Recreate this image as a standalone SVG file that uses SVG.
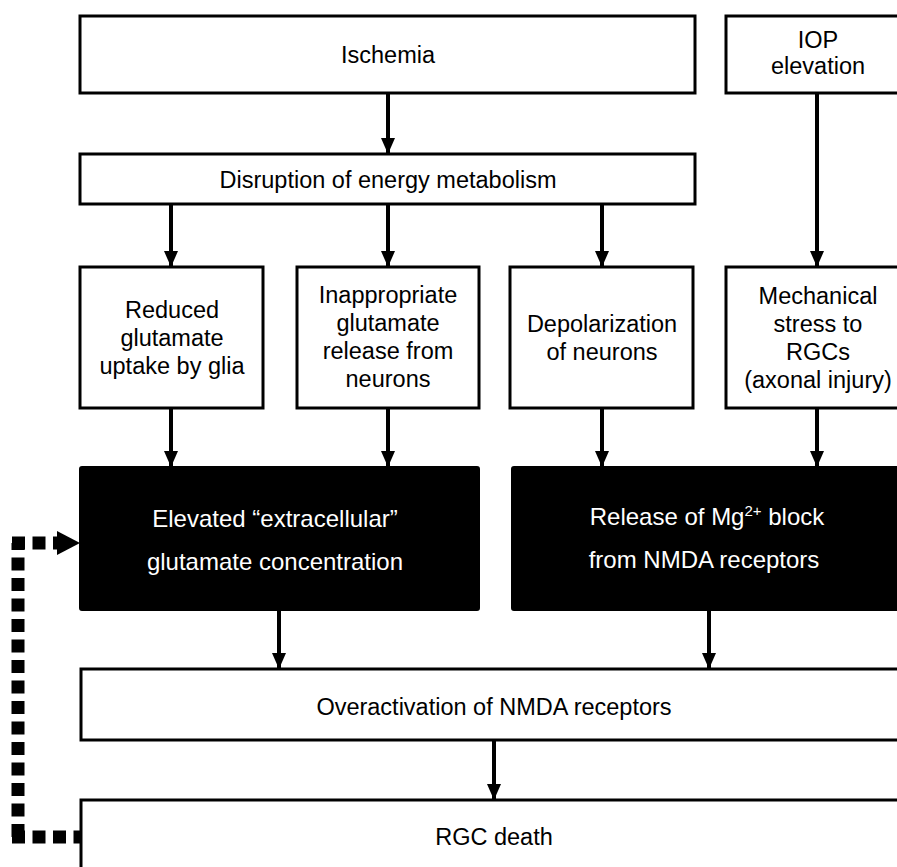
<svg xmlns="http://www.w3.org/2000/svg" width="897" height="867" viewBox="0 0 897 867">
<defs>
<style>
.box{fill:#fff;stroke:#000;stroke-width:3}
.dark{fill:#000;stroke:#000;stroke-width:2}
.t{font-family:"Liberation Sans",Arial,sans-serif;font-size:23.5px;fill:#000;text-anchor:middle}
.w{font-family:"Liberation Sans",Arial,sans-serif;font-size:24px;fill:#fff;text-anchor:middle}
.arr{stroke:#000;stroke-width:4;fill:none;marker-end:url(#ah)}
.dot{stroke:#000;stroke-width:13;fill:none;stroke-dasharray:13 7.5}
</style>
<marker id="ah" markerUnits="userSpaceOnUse" markerWidth="16" markerHeight="14" viewBox="0 0 16 14" refX="16" refY="7" orient="auto">
<path d="M0,0 L16,7 L0,14 Z" fill="#000"/>
</marker>
</defs>
<rect width="897" height="867" fill="#fff"/>

<g id="connectors">
<line class="arr" x1="388" y1="93" x2="388" y2="154"/>
<line class="arr" x1="171" y1="204" x2="171" y2="267"/>
<line class="arr" x1="388" y1="204" x2="388" y2="267"/>
<line class="arr" x1="602" y1="204" x2="602" y2="267"/>
<line class="arr" x1="817" y1="93" x2="817" y2="267"/>
<line class="arr" x1="171" y1="408" x2="171" y2="467"/>
<line class="arr" x1="388" y1="408" x2="388" y2="467"/>
<line class="arr" x1="602" y1="408" x2="602" y2="467"/>
<line class="arr" x1="817" y1="408" x2="817" y2="467"/>
<line class="arr" x1="279" y1="610" x2="279" y2="669"/>
<line class="arr" x1="709" y1="610" x2="709" y2="669"/>
<line class="arr" x1="494" y1="740" x2="494" y2="800"/>
<path class="dot" d="M18,837 V543"/>
<path class="dot" d="M12,837 H80"/>
<path class="dot" d="M12,543 H58"/>
<polygon points="57,531 80,543 57,555" fill="#000"/>
</g>

<g id="ischemia">
<rect class="box" x="80" y="16" width="615" height="77"/>
<text class="t" x="388" y="63">Ischemia</text>
</g>
<g id="iop">
<rect class="box" x="726" y="16" width="200" height="77"/>
<text class="t" x="818" y="48">IOP</text>
<text class="t" x="818" y="74">elevation</text>
</g>
<g id="disruption">
<rect class="box" x="80" y="154" width="615" height="50"/>
<text class="t" x="388" y="188">Disruption of energy metabolism</text>
</g>
<g id="reduced">
<rect class="box" x="80" y="267" width="183" height="141"/>
<text class="t" x="172" y="318">Reduced</text>
<text class="t" x="172" y="346">glutamate</text>
<text class="t" x="172" y="374">uptake by glia</text>
</g>
<g id="inappropriate">
<rect class="box" x="297" y="267" width="182" height="141"/>
<text class="t" x="388" y="303">Inappropriate</text>
<text class="t" x="388" y="331">glutamate</text>
<text class="t" x="388" y="359">release from</text>
<text class="t" x="388" y="387">neurons</text>
</g>
<g id="depolarization">
<rect class="box" x="510" y="267" width="183" height="141"/>
<text class="t" x="602" y="332">Depolarization</text>
<text class="t" x="602" y="360">of neurons</text>
</g>
<g id="mechanical">
<rect class="box" x="726" y="267" width="200" height="141"/>
<text class="t" x="818" y="304">Mechanical</text>
<text class="t" x="818" y="332">stress to</text>
<text class="t" x="818" y="360">RGCs</text>
<text class="t" x="818" y="388">(axonal injury)</text>
</g>
<g id="elevated">
<rect class="dark" x="80" y="467" width="399" height="143" rx="2"/>
<text class="w" x="275" y="527">Elevated “extracellular”</text>
<text class="w" x="275" y="570">glutamate concentration</text>
</g>
<g id="mgrelease">
<rect class="dark" x="512" y="467" width="420" height="143" rx="2"/>
<text class="w" x="707" y="525">Release of Mg<tspan font-size="15" dy="-9">2+</tspan><tspan dy="9"> block</tspan></text>
<text class="w" x="704" y="568">from NMDA receptors</text>
</g>
<g id="overactivation">
<rect class="box" x="81" y="669" width="860" height="71"/>
<text class="t" x="494" y="715">Overactivation of NMDA receptors</text>
</g>
<g id="rgcdeath">
<rect class="box" x="81" y="800" width="860" height="100"/>
<text class="t" x="494" y="845">RGC death</text>
</g>
</svg>
